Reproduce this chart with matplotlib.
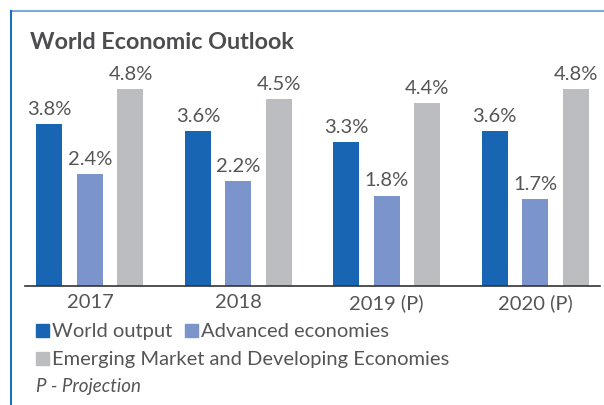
import matplotlib.pyplot as plt
import matplotlib.patches as mpatches
from matplotlib.lines import Line2D
import numpy as np

plt.rcParams['font.family'] = ['Lato', 'DejaVu Sans']

years = ['2017', '2018', '2019 (P)', '2020 (P)']
series = ['World output', 'Advanced economies', 'Emerging Market and Developing Economies']
world = [3.8, 3.6, 3.3, 3.6]
advanced = [2.4, 2.2, 1.8, 1.7]
emerging = [4.8, 4.5, 4.4, 4.8]
colors = ['#1765b3', '#7b94cc', '#bcbdc1']
txt = '#555555'

W, H = 604, 405
fig = plt.figure(figsize=(W / 100, H / 100), dpi=100)
# axes placed in pixel terms: x 25..600, y 60..286 from top
ax = fig.add_axes([25 / W, 1 - 286 / H, 575 / W, 226 / H])

# the original value axis does not start at zero
ymin = -0.74
ymax = ymin + 226 / 35.6

x = np.arange(len(years))
step = 0.273
width = 0.175
for k, vals in enumerate([world, advanced, emerging]):
    pos = x + (k - 1) * step
    vals = np.array(vals)
    bars = ax.bar(pos, vals - ymin, width, bottom=ymin, color=colors[k])
    for b, v in zip(bars, vals):
        ax.annotate(f'{v:.1f}%', (b.get_x() + b.get_width() / 2, v),
                    xytext=(0, 4.5), textcoords='offset points',
                    ha='center', va='bottom', fontsize=14.5, color=txt)

ax.set_xlim(-0.438, 3.438)
ax.set_ylim(ymin, ymax)
ax.set_xticks(x)
ax.set_xticklabels(years, fontsize=14.5, color=txt)
ax.tick_params(axis='x', length=0, pad=6)
ax.set_yticks([])
for s in ['top', 'right', 'left']:
    ax.spines[s].set_visible(False)
ax.spines['bottom'].set_color('#333333')
ax.spines['bottom'].set_linewidth(1.2)

# frame lines
fig.add_artist(Line2D([10.5 / W, 1], [1 - 11 / H, 1 - 11 / H], color='#7fa9dc', lw=1.5))
fig.add_artist(Line2D([10.5 / W, 10.5 / W], [0, 1 - 11 / H], color='#1f6fc1', lw=1.5))

fig.text(30 / W, 1 - 49 / H, 'World Economic Outlook', fontsize=16.8, fontweight='bold',
         color='#4d4d4f', va='baseline')

# legend
def legend_item(px, py, color, label):
    fig.add_artist(mpatches.Rectangle((px / W, 1 - py / H), 13 / W, 13 / H,
                                      color=color, transform=fig.transFigure))
    fig.text((px + 16) / W, 1 - py / H, label, fontsize=14.5, color=txt, va='baseline')

legend_item(36, 337, colors[0], series[0])
legend_item(185, 337, colors[1], series[1])
legend_item(36, 365, colors[2], series[2])
fig.text(36 / W, 1 - 392 / H, 'P - Projection', fontsize=13.5, color=txt,
         style='italic', va='baseline')

fig.savefig('out.png', dpi=100)
